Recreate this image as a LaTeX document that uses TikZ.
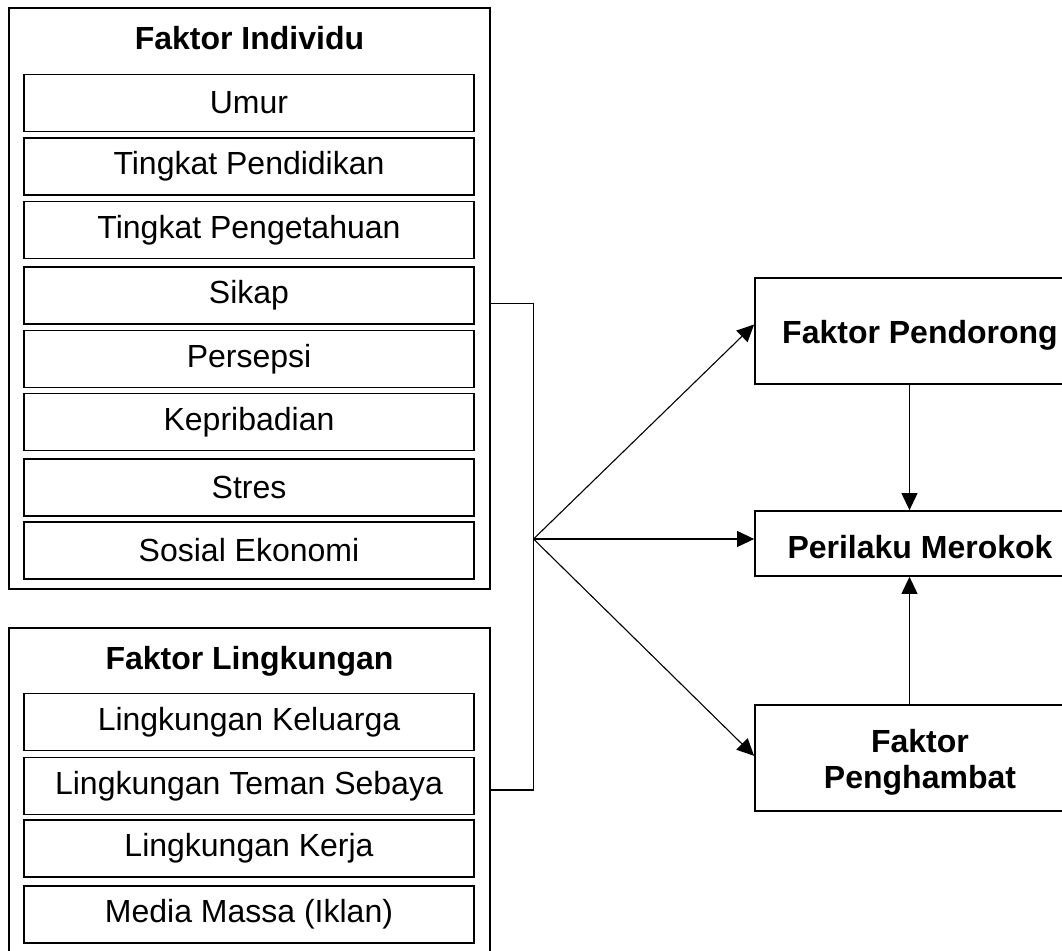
\documentclass[tikz,border=0pt]{standalone}
\usepackage{fontspec}
\setmainfont{Liberation Sans}
\usetikzlibrary{arrows.meta,calc}
\begin{document}
\begin{tikzpicture}[x=0.5pt,y=-0.5pt,
  txt/.style={font=\fontsize{16}{18}\selectfont, align=center},
  outerbox/.style={draw, line width=0.9pt, rectangle, inner sep=0pt},
  rowbox/.style={draw, line width=0.9pt, rectangle, inner sep=0pt, minimum width=225pt, minimum height=28.5pt, txt},
  rbox/.style={draw, line width=0.9pt, rectangle, inner sep=0pt, minimum width=165pt},
  rtext/.style={txt, font=\fontsize{16}{18}\selectfont\bfseries, yshift=-2pt},
  title/.style={txt, font=\fontsize{16}{18}\selectfont\bfseries},
  conn/.style={line width=0.55pt},
  arr/.style={conn, -{Triangle[length=8.5pt,width=8pt]}}
]
\useasboundingbox (0,0) rectangle (1062,951);
\clip (0,0) rectangle (1062,951);
\fill[white] (0,0) rectangle (1062,951);

% Left: Faktor Individu
\node[outerbox, minimum width=240.5pt, minimum height=290.5pt] (ind) at (249.5,298.5) {};
\node[title] (indt) at (249.5,38) {Faktor Individu};
\node[rowbox] (umur) at (249,103) {Umur};
\node[rowbox] (pend1) at (249,166.5) {Tingkat Pendidikan};
\node[rowbox] (peng1) at (249,230) {Tingkat Pengetahuan};
\node[rowbox] (sikap) at (249,295.5) {Sikap};
\node[rowbox] (pers) at (249,359) {Persepsi};
\node[rowbox] (kepr) at (249,422) {Kepribadian};
\node[rowbox] (stres) at (249,487.5) {Stres};
\node[rowbox] (sos) at (249,550.5) {Sosial Ekonomi};

% Left: Faktor Lingkungan
\node[outerbox, minimum width=240.5pt, minimum height=163.5pt] (lin) at (249.5,791.5) {};
\node[title] (lint) at (249.5,661) {Faktor Lingkungan};
\node[rowbox] (kel) at (249,722) {Lingkungan Keluarga};
\node[rowbox] (tem) at (249,786) {Lingkungan Teman Sebaya};
\node[rowbox] (ker) at (249,848.5) {Lingkungan Kerja};
\node[rowbox] (med) at (249,914.5) {Media Massa (Iklan)};

% Right boxes
\node[rbox, minimum height=53pt] (pdr) at (920,331) {};
\node[rtext] (pdrt) at (pdr.center) {Faktor Pendorong};
\node[rbox, minimum height=32.5pt] (per) at (920,543.5) {};
\node[rtext] (pert) at (per.center) {Perilaku Merokok};
\node[rbox, minimum height=53pt] (phb) at (920,758) {};
\node[rtext] (phbt) at (phb.center) {Faktor\\Penghambat};

% Connectors
\coordinate (j1) at (533.5,303.5);
\coordinate (j2) at (533.5,790);
\coordinate (fan) at (533.5,539);
\coordinate (vx) at (909.5,540);
\draw[conn] (ind.east |- j1) -- (j1) -- (j2) -- (lin.east |- j2);
\draw[arr] (fan) -- ($(pdr.north west)!0.44!(pdr.south west)$);
\draw[arr] (fan) -- (per.west |- fan);
\draw[arr] (fan) -- ($(phb.north west)!0.48!(phb.south west)$);
\draw[arr] (pdr.south -| vx) -- (per.north -| vx);
\draw[arr] (phb.north -| vx) -- (per.south -| vx);
\end{tikzpicture}
\end{document}
